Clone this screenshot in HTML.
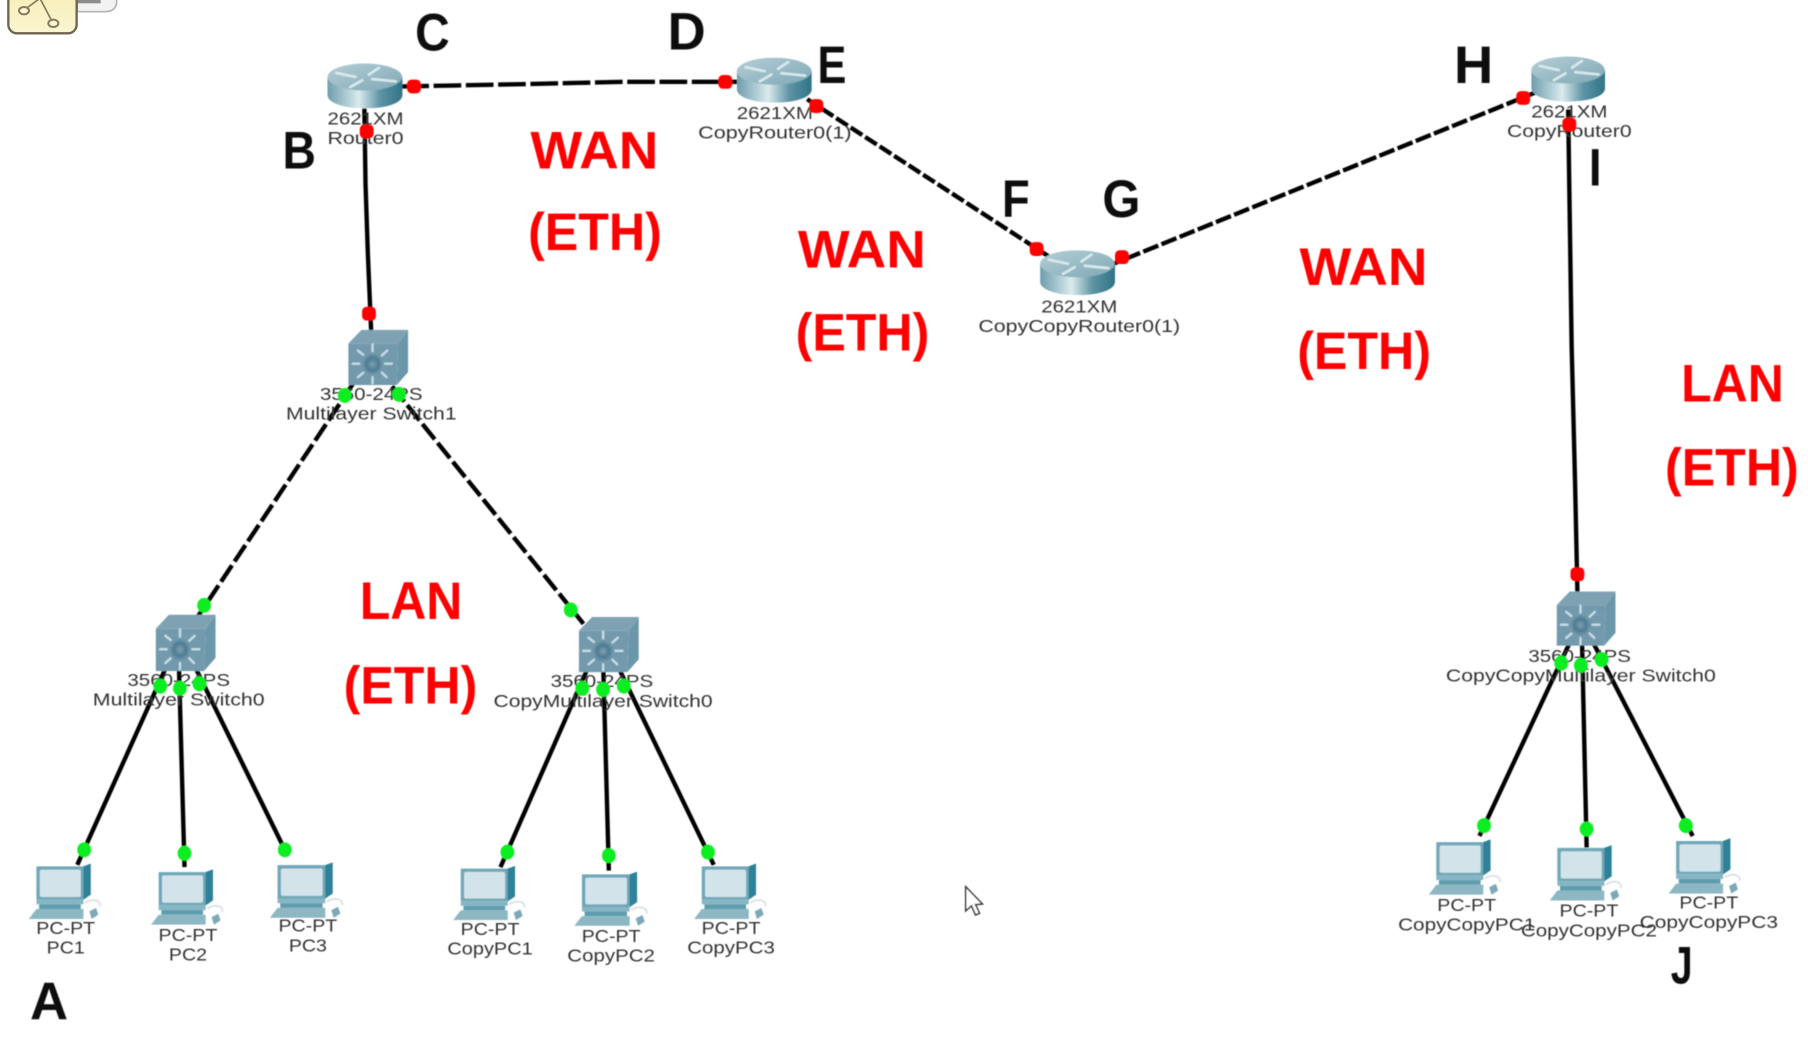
<!DOCTYPE html>
<html lang="en"><head><meta charset="utf-8"><title>Network topology</title>
<style>html,body{margin:0;padding:0;background:#fff;width:1808px;height:1041px;overflow:hidden}svg{display:block}</style></head>
<body>
<svg xmlns="http://www.w3.org/2000/svg" width="1808" height="1041" viewBox="0 0 1568 902.8" font-family="'Liberation Sans',sans-serif">
<defs>
<filter id="b" x="-5%" y="-5%" width="110%" height="110%"><feGaussianBlur stdDeviation="0.4"/></filter>
<linearGradient id="rb" x1="0" x2="1" y1="0" y2="0"><stop offset="0" stop-color="#6f9dac"/><stop offset=".3" stop-color="#b9d4dc"/><stop offset=".42" stop-color="#dcebef"/><stop offset=".7" stop-color="#5f95a6"/><stop offset="1" stop-color="#2f7487"/></linearGradient>
<linearGradient id="rt" x1="0" x2="1" y1="0" y2="1"><stop offset="0" stop-color="#b5ced6"/><stop offset="1" stop-color="#7fa9b6"/></linearGradient>
<radialGradient id="sw" cx=".5" cy=".5" r=".5"><stop offset="0" stop-color="#7fa0b2"/><stop offset=".6" stop-color="#4f7c93"/><stop offset="1" stop-color="#6f97aa"/></radialGradient>
<linearGradient id="ic" x1="0" x2="0" y1="0" y2="1"><stop offset="0" stop-color="#f6eeb4"/><stop offset="1" stop-color="#fbf5d2"/></linearGradient>

<symbol id="router" viewBox="82 72 223 133" preserveAspectRatio="none">
 <path d="M82 112 V165 C82 190 135 205 193 205 C255 205 305 190 305 165 V112 Z" fill="url(#rb)"/>
 <ellipse cx="193" cy="112" rx="111" ry="40" fill="url(#rt)"/>
 <g stroke="#d8e8ed" stroke-width="8" fill="none" stroke-linecap="round">
  <path d="M108 100 L165 112"/><path d="M205 105 L235 85"/><path d="M215 118 L285 125"/><path d="M150 142 L185 122"/>
 </g>
</symbol>

<symbol id="switch" viewBox="55 28 180 160" preserveAspectRatio="none">
 <polygon points="55,68 95,28 235,28 205,68" fill="#7fa2b3"/>
 <polygon points="205,68 235,28 235,150 200,188" fill="#6a98aa"/>
 <polygon points="55,68 205,68 200,188 55,188" fill="#739aac"/>
 <circle cx="128" cy="127" r="30" fill="url(#sw)"/>
 <g stroke="#c4dde8" stroke-width="7" stroke-linecap="round">
  <path d="M128 70 V90"/><path d="M128 165 V183"/><path d="M68 126 H88"/><path d="M165 126 H186"/>
  <path d="M84 88 L100 100"/><path d="M172 88 L156 102"/><path d="M84 165 L100 152"/><path d="M170 165 L156 152"/>
 </g>
</symbol>

<symbol id="pc" viewBox="25 42 223 166" preserveAspectRatio="none">
 <polygon points="48,50 190,50 212,42 212,135 190,150 48,150" fill="#6fa7b8"/>
 <polygon points="190,50 212,42 212,135 190,150" fill="#2f8198"/>
 <rect x="58" y="60" width="124" height="82" rx="6" fill="#d3e3ea"/>
 <rect x="48" y="150" width="142" height="14" fill="#86b5c3"/>
 <rect x="56" y="164" width="126" height="14" fill="#5e9cae"/>
 <polygon points="48,178 190,178 190,208 25,208" fill="#8cb7c3"/>
 <path d="M195 160 C215 145 245 150 240 170" stroke="#d5dfe3" stroke-width="5" fill="none"/>
 <polygon points="208,185 228,175 235,195 215,208" fill="#7ba9b7"/>
</symbol>
</defs>

<rect width="1568" height="903" fill="#fff"/>

<!-- clipboard icon, top-left -->
<g transform="scale(.289)">
 <path d="M232 -5 H350 V10 Q345 35 315 35 H232 Z" fill="#f2f2f2" stroke="#b5b5b5" stroke-width="5"/>
 <rect x="232" y="-5" width="70" height="15" fill="#8d8d8d"/>
 <rect x="25" y="-30" width="205" height="130" rx="26" fill="url(#ic)" stroke="#6d6550" stroke-width="7"/>
 <path d="M72 30 L120 -5 L158 68" fill="none" stroke="#857a5e" stroke-width="5"/>
 <ellipse cx="72" cy="32" rx="15" ry="11" fill="#fbf5d2" stroke="#857a5e" stroke-width="6"/>
 <ellipse cx="160" cy="70" rx="15" ry="11" fill="#fbf5d2" stroke="#857a5e" stroke-width="6"/>
</g>

<g filter="url(#b)">
<!-- solid links -->
<g fill="none" stroke="#050505" stroke-width="3.8">
 <polyline points="316,94 317,160 319,220 322,290"/>
 <polyline points="1360,95 1361,165 1363,300 1366,420 1368,513"/>
 <path d="M147,572 L67,750"/><path d="M155,572 L160,752"/><path d="M166,572 L247,737"/>
 <path d="M513,572 L434,752"/><path d="M523,572 L528,755"/><path d="M533,572 L619,750"/>
 <path d="M1362,556 L1283,725"/><path d="M1372,556 L1376,735"/><path d="M1381,556 L1468,725"/>
</g>
<!-- dashed links -->
<g fill="none" stroke="#050505" stroke-width="3.8">
 <polyline points="348,75 450,73 540,71 640,71" stroke-dasharray="24 4"/>
 <path d="M700,86 L912,224" stroke-dasharray="12 3"/>
 <path d="M960,231 L1332,80" stroke-dasharray="14 3"/>
 <path d="M306,333 L170,537" stroke-dasharray="17 4"/>
 <path d="M340,335 L506,541" stroke-dasharray="17 4"/>
</g>

<!-- devices -->
<use href="#router" x="284" y="55" width="65" height="39"/>
<use href="#router" x="639" y="50" width="65" height="39"/>
<use href="#router" x="902" y="217" width="65" height="39"/>
<use href="#router" x="1328" y="49" width="64" height="39"/>

<use href="#switch" x="302" y="286" width="52" height="48"/>
<use href="#switch" x="135" y="533" width="52" height="49"/>
<use href="#switch" x="502" y="535" width="52" height="48"/>
<use href="#switch" x="1350" y="513" width="51" height="47"/>

<use href="#pc" x="25" y="749" width="64" height="48"/>
<use href="#pc" x="131" y="754" width="64" height="48"/>
<use href="#pc" x="234" y="748" width="65" height="48"/>
<use href="#pc" x="393" y="751" width="64" height="47"/>
<use href="#pc" x="498" y="756" width="65" height="47"/>
<use href="#pc" x="602" y="749" width="64" height="48"/>
<use href="#pc" x="1239" y="728" width="64" height="48"/>
<use href="#pc" x="1344" y="733" width="64" height="48"/>
<use href="#pc" x="1447" y="727" width="64" height="48"/>

<!-- device labels -->
<g font-size="15" fill="#333" text-anchor="middle">
 <text x="317" y="108" textLength="66" lengthAdjust="spacingAndGlyphs">2621XM</text><text x="317" y="125" textLength="66" lengthAdjust="spacingAndGlyphs">Router0</text>
 <text x="672" y="103" textLength="66" lengthAdjust="spacingAndGlyphs">2621XM</text><text x="672" y="120" textLength="133" lengthAdjust="spacingAndGlyphs">CopyRouter0(1)</text>
 <text x="936" y="271" textLength="66" lengthAdjust="spacingAndGlyphs">2621XM</text><text x="936" y="288" textLength="175" lengthAdjust="spacingAndGlyphs">CopyCopyRouter0(1)</text>
 <text x="1361" y="102" textLength="66" lengthAdjust="spacingAndGlyphs">2621XM</text><text x="1361" y="119" textLength="108" lengthAdjust="spacingAndGlyphs">CopyRouter0</text>
 <text x="322" y="347" textLength="89" lengthAdjust="spacingAndGlyphs">3560-24PS</text><text x="322" y="364" textLength="148" lengthAdjust="spacingAndGlyphs">Multilayer Switch1</text>
 <text x="155" y="595" textLength="89" lengthAdjust="spacingAndGlyphs">3560-24PS</text><text x="155" y="612" textLength="149" lengthAdjust="spacingAndGlyphs">Multilayer Switch0</text>
 <text x="522" y="596" textLength="89" lengthAdjust="spacingAndGlyphs">3560-24PS</text><text x="523" y="613" textLength="190" lengthAdjust="spacingAndGlyphs">CopyMultilayer Switch0</text>
 <text x="1370" y="574" textLength="89" lengthAdjust="spacingAndGlyphs">3560-24PS</text><text x="1371" y="591" textLength="234" lengthAdjust="spacingAndGlyphs">CopyCopyMultilayer Switch0</text>
 <text x="57" y="810" textLength="51" lengthAdjust="spacingAndGlyphs">PC-PT</text><text x="57" y="827" textLength="33" lengthAdjust="spacingAndGlyphs">PC1</text>
 <text x="163" y="816" textLength="51" lengthAdjust="spacingAndGlyphs">PC-PT</text><text x="163" y="833" textLength="33" lengthAdjust="spacingAndGlyphs">PC2</text>
 <text x="267" y="808" textLength="51" lengthAdjust="spacingAndGlyphs">PC-PT</text><text x="267" y="825" textLength="33" lengthAdjust="spacingAndGlyphs">PC3</text>
 <text x="425" y="811" textLength="51" lengthAdjust="spacingAndGlyphs">PC-PT</text><text x="425" y="828" textLength="74" lengthAdjust="spacingAndGlyphs">CopyPC1</text>
 <text x="530" y="817" textLength="51" lengthAdjust="spacingAndGlyphs">PC-PT</text><text x="530" y="834" textLength="76" lengthAdjust="spacingAndGlyphs">CopyPC2</text>
 <text x="634" y="810" textLength="51" lengthAdjust="spacingAndGlyphs">PC-PT</text><text x="634" y="827" textLength="76" lengthAdjust="spacingAndGlyphs">CopyPC3</text>
 <text x="1272" y="790" textLength="51" lengthAdjust="spacingAndGlyphs">PC-PT</text><text x="1272" y="807" textLength="119" lengthAdjust="spacingAndGlyphs">CopyCopyPC1</text>
 <text x="1378" y="795" textLength="51" lengthAdjust="spacingAndGlyphs">PC-PT</text><text x="1378" y="812" textLength="118" lengthAdjust="spacingAndGlyphs">CopyCopyPC2</text>
 <text x="1482" y="788" textLength="51" lengthAdjust="spacingAndGlyphs">PC-PT</text><text x="1482" y="805" textLength="120" lengthAdjust="spacingAndGlyphs">CopyCopyPC3</text>
</g>

<!-- port markers: red -->
<g fill="#ff0505">
 <rect x="353" y="69" width="12" height="12" rx="4"/><rect x="623" y="65" width="12" height="12" rx="4"/>
 <rect x="702" y="86" width="12" height="12" rx="4"/><rect x="893" y="210" width="12" height="12" rx="4"/>
 <rect x="967" y="217" width="12" height="12" rx="4"/><rect x="1315" y="79" width="12" height="12" rx="4"/>
 <rect x="1355" y="102" width="12" height="12" rx="4"/><rect x="312" y="108" width="12" height="12" rx="4"/>
 <rect x="314" y="266" width="12" height="12" rx="4"/><rect x="1362" y="492" width="12" height="12" rx="4"/>
</g>
<!-- port markers: green -->
<g fill="#10ee22">
 <ellipse cx="299" cy="343" rx="6" ry="6.5"/><ellipse cx="346" cy="342" rx="6" ry="6.5"/>
 <ellipse cx="177" cy="525" rx="6" ry="6.5"/><ellipse cx="495" cy="529" rx="6" ry="6.5"/>
 <ellipse cx="139" cy="595" rx="6" ry="6.5"/><ellipse cx="156" cy="597" rx="6" ry="6.5"/><ellipse cx="173" cy="593" rx="6" ry="6.5"/>
 <ellipse cx="505" cy="597" rx="6" ry="6.5"/><ellipse cx="523" cy="598" rx="6" ry="6.5"/><ellipse cx="541" cy="595" rx="6" ry="6.5"/>
 <ellipse cx="73" cy="737" rx="6" ry="6.5"/><ellipse cx="160" cy="740" rx="6" ry="6.5"/><ellipse cx="247" cy="737" rx="6" ry="6.5"/>
 <ellipse cx="440" cy="739" rx="6" ry="6.5"/><ellipse cx="528" cy="742" rx="6" ry="6.5"/><ellipse cx="614" cy="739" rx="6" ry="6.5"/>
 <ellipse cx="1354" cy="575" rx="6" ry="6.5"/><ellipse cx="1371" cy="577" rx="6" ry="6.5"/><ellipse cx="1389" cy="572" rx="6" ry="6.5"/>
 <ellipse cx="1287" cy="716" rx="6" ry="6.5"/><ellipse cx="1376" cy="719" rx="6" ry="6.5"/><ellipse cx="1462" cy="716" rx="6" ry="6.5"/>
</g>

<!-- red annotations -->
<g font-size="46" font-weight="bold" fill="#ff0000">
 <text x="460" y="146" textLength="111" lengthAdjust="spacingAndGlyphs">WAN</text>
 <text x="458" y="217" textLength="116" lengthAdjust="spacingAndGlyphs">(ETH)</text>
 <text x="692" y="232" textLength="111" lengthAdjust="spacingAndGlyphs">WAN</text>
 <text x="690" y="304" textLength="116" lengthAdjust="spacingAndGlyphs">(ETH)</text>
 <text x="1127" y="247" textLength="111" lengthAdjust="spacingAndGlyphs">WAN</text>
 <text x="1125" y="320" textLength="116" lengthAdjust="spacingAndGlyphs">(ETH)</text>
 <text x="312" y="537" textLength="89" lengthAdjust="spacingAndGlyphs">LAN</text>
 <text x="298" y="610" textLength="116" lengthAdjust="spacingAndGlyphs">(ETH)</text>
 <text x="1458" y="348" textLength="89" lengthAdjust="spacingAndGlyphs">LAN</text>
 <text x="1444" y="421" textLength="116" lengthAdjust="spacingAndGlyphs">(ETH)</text>
</g>

<!-- black letters -->
<g font-size="46" font-weight="bold" fill="#0a0a0a">
 <text x="26" y="884" textLength="33" lengthAdjust="spacingAndGlyphs">A</text>
 <text x="245" y="146" textLength="29" lengthAdjust="spacingAndGlyphs">B</text>
 <text x="360" y="44" textLength="30" lengthAdjust="spacingAndGlyphs">C</text>
 <text x="579" y="43" textLength="33" lengthAdjust="spacingAndGlyphs">D</text>
 <text x="709" y="72" textLength="25" lengthAdjust="spacingAndGlyphs">E</text>
 <text x="869" y="188" textLength="24" lengthAdjust="spacingAndGlyphs">F</text>
 <text x="956" y="188" textLength="33" lengthAdjust="spacingAndGlyphs">G</text>
 <text x="1261" y="72" textLength="34" lengthAdjust="spacingAndGlyphs">H</text>
 <text x="1378" y="161" textLength="11" lengthAdjust="spacingAndGlyphs">I</text>
 <text x="1449" y="853" textLength="19" lengthAdjust="spacingAndGlyphs">J</text>
</g>

<!-- mouse cursor -->
<path d="M837.5,769 V790 L842.5,785.5 L846,793.5 L849.5,792 L846,784.5 L852,784 Z" fill="#fff" stroke="#333" stroke-width="1.3"/>
</g>
</svg>
</body></html>
